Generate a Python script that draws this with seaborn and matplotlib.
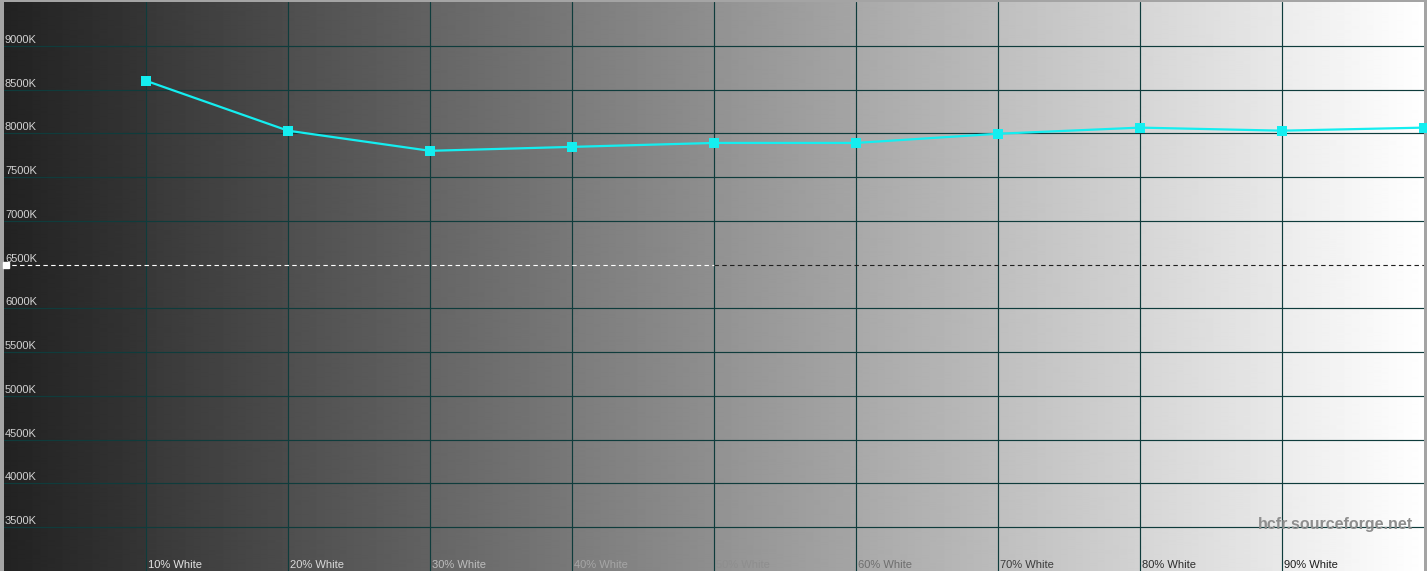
import numpy as np
import pandas as pd
import matplotlib
matplotlib.use("Agg")
import matplotlib.pyplot as plt
import matplotlib.transforms as mtransforms
import seaborn as sns

# ---- data ----
levels = [10, 20, 30, 40, 50, 60, 70, 80, 90, 100]
temps = [8600, 8030, 7800, 7845, 7890, 7890, 7995, 8065, 8030, 8065]
x_tick_pos = [10, 20, 30, 40, 50, 60, 70, 80, 90]
x_tick_labels = ["10% White", "20% White", "30% White", "40% White", "50% White",
                 "60% White", "70% White", "80% White", "90% White"]
x_label_colors = ["#e4e4e4", "#dadada", "#bdbdbd", "#a6a6a6", "#8e8e8e",
                  "#6e6e6e", "#3c3c3c", "#2c2c2c", "#1c1c1c"]
y_tick_pos = [3500, 4000, 4500, 5000, 5500, 6000, 6500, 7000, 7500, 8000, 8500, 9000]
y_tick_labels = ["3500K", "4000K", "4500K", "5000K", "5500K", "6000K", "6500K",
                 "7000K", "7500K", "8000K", "8500K", "9000K"]
reference_temp = 6500

df = pd.DataFrame({"level": levels, "temp": temps})

sns.set_theme(style="white")
plt.rcParams['font.family'] = ['Liberation Sans', 'DejaVu Sans']

W, H = 1427, 571
fig = plt.figure(figsize=(W / 100, H / 100), dpi=100, facecolor="#a4a4a4")
ax = fig.add_axes([4 / W, 0, 1420 / W, 569 / H])
ax.set_xlim(0, 100)
ax.set_ylim(3000, 9500)

# background gradient (per 10% band)
nx = 1420
xs = np.linspace(0, 100, nx)
band = np.floor(xs / 10).clip(0, 9)
frac = xs / 10 - band
gray = (34 + band * 22.4 + frac * 19) / 255.0
img = np.tile(gray, (2, 1))
ax.imshow(img, cmap="gray", vmin=0, vmax=1, extent=[0, 100, 3000, 9500],
          aspect="auto", interpolation="bilinear", zorder=0)

grid_c = "#0f3c3c"
for xv in x_tick_pos:
    ax.axvline(xv, color=grid_c, lw=0.85, zorder=1)
for yv in y_tick_pos:
    if yv != reference_temp:
        ax.axhline(yv, color=grid_c, lw=0.85, zorder=1)

# reference dashed line (light on dark half, dark on light half)
ax.plot([0, 50], [reference_temp, reference_temp], color="white", lw=0.8,
        linestyle=(0, (4, 3)), zorder=2)
ax.plot([50, 100], [reference_temp, reference_temp], color="#202020", lw=0.8,
        linestyle=(0, (4, 3)), zorder=2)
ax.plot([0.12], [reference_temp], marker="s", ms=4, color="white", zorder=3,
        clip_on=False)

sns.lineplot(data=df, x="level", y="temp", ax=ax, color="#14eef0", lw=1.6,
             marker="s", markersize=6.5, markeredgewidth=0, zorder=4,
             clip_on=False)

ax.set_xticks([])
ax.set_yticks([])
ax.set_xlabel("")
ax.set_ylabel("")
for s in ax.spines.values():
    s.set_visible(False)

# y labels inside the plot
ylab_tr = mtransforms.offset_copy(ax.transData, fig=fig, x=0, y=3, units="dots")
for yv, lab in zip(y_tick_pos, y_tick_labels):
    ax.text(0.07, yv, lab, transform=ylab_tr, fontsize=8, color="#d2d2d2",
            ha="left", va="baseline", zorder=5)

# x labels at bottom
xlab_tr = mtransforms.offset_copy(ax.transData, fig=fig, x=2, y=3, units="dots")
for xv, lab, c in zip(x_tick_pos, x_tick_labels, x_label_colors):
    ax.text(xv, 3000, lab, transform=xlab_tr, fontsize=8, color=c,
            ha="left", va="baseline", zorder=5)

# watermark
fig.text(1413 / W, 1 - 529 / H, "hcfr.sourceforge.net", fontsize=11.5,
         fontweight="bold", color="#8e8e8e", ha="right", va="baseline", zorder=6)

fig.savefig("out.png", dpi=100, facecolor=fig.get_facecolor())
